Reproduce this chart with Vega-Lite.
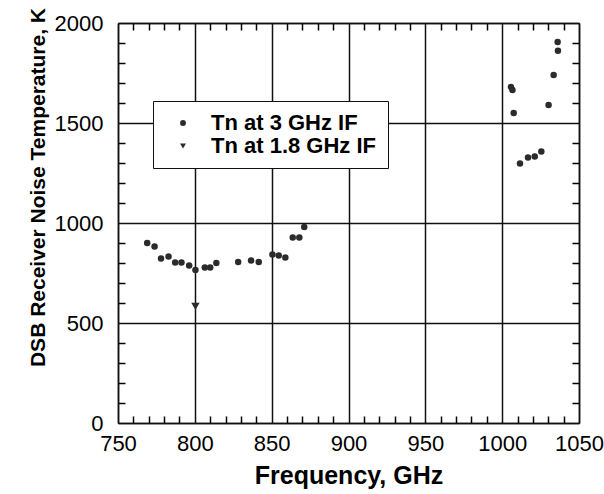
{
  "$schema": "https://vega.github.io/schema/vega-lite/v6.json",
  "width": 461,
  "height": 400,
  "padding": {"left": 26, "top": 7, "right": 5, "bottom": 5},
  "config": {"view": {"stroke": null}},
  "data": {"values": [
    {"f": 769.0, "t": 900, "series": "Tn at 3 GHz IF"},
    {"f": 773.8, "t": 882, "series": "Tn at 3 GHz IF"},
    {"f": 778.0, "t": 822, "series": "Tn at 3 GHz IF"},
    {"f": 782.9, "t": 832, "series": "Tn at 3 GHz IF"},
    {"f": 787.2, "t": 803, "series": "Tn at 3 GHz IF"},
    {"f": 791.3, "t": 803, "series": "Tn at 3 GHz IF"},
    {"f": 796.3, "t": 787, "series": "Tn at 3 GHz IF"},
    {"f": 800.4, "t": 765, "series": "Tn at 3 GHz IF"},
    {"f": 806.5, "t": 778, "series": "Tn at 3 GHz IF"},
    {"f": 810.0, "t": 777, "series": "Tn at 3 GHz IF"},
    {"f": 814.0, "t": 800, "series": "Tn at 3 GHz IF"},
    {"f": 828.2, "t": 805, "series": "Tn at 3 GHz IF"},
    {"f": 836.6, "t": 813, "series": "Tn at 3 GHz IF"},
    {"f": 841.6, "t": 805, "series": "Tn at 3 GHz IF"},
    {"f": 850.5, "t": 843, "series": "Tn at 3 GHz IF"},
    {"f": 854.6, "t": 838, "series": "Tn at 3 GHz IF"},
    {"f": 858.9, "t": 828, "series": "Tn at 3 GHz IF"},
    {"f": 863.7, "t": 927, "series": "Tn at 3 GHz IF"},
    {"f": 868.0, "t": 927, "series": "Tn at 3 GHz IF"},
    {"f": 871.2, "t": 980, "series": "Tn at 3 GHz IF"},
    {"f": 1005.7, "t": 1680, "series": "Tn at 3 GHz IF"},
    {"f": 1006.7, "t": 1665, "series": "Tn at 3 GHz IF"},
    {"f": 1007.5, "t": 1550, "series": "Tn at 3 GHz IF"},
    {"f": 1011.6, "t": 1297, "series": "Tn at 3 GHz IF"},
    {"f": 1016.8, "t": 1328, "series": "Tn at 3 GHz IF"},
    {"f": 1021.2, "t": 1332, "series": "Tn at 3 GHz IF"},
    {"f": 1025.5, "t": 1358, "series": "Tn at 3 GHz IF"},
    {"f": 1030.2, "t": 1590, "series": "Tn at 3 GHz IF"},
    {"f": 1033.5, "t": 1740, "series": "Tn at 3 GHz IF"},
    {"f": 1036.3, "t": 1861, "series": "Tn at 3 GHz IF"},
    {"f": 1036.1, "t": 1905, "series": "Tn at 3 GHz IF"},
    {"f": 800.4, "t": 583, "series": "Tn at 1.8 GHz IF"}
  ]},
  "resolve": {"axis": {"x": "independent", "y": "independent"}},
  "layer": [
    {
      "mark": {"type": "point", "opacity": 0},
      "encoding": {
        "x": {"field": "f", "type": "quantitative",
          "scale": {"domain": [750, 1050], "nice": false, "zero": false},
          "axis": {"orient": "bottom", "values": [760,770,780,790,810,820,830,840,860,870,880,890,910,920,930,940,960,970,980,990,1010,1020,1030,1040],
            "title": null, "labels": false, "grid": false, "tickSize": -7, "tickColor": "black", "tickWidth": 1.5,
            "domainColor": "#111", "domainWidth": 1.5}},
        "y": {"field": "t", "type": "quantitative",
          "scale": {"domain": [0, 2000], "nice": false},
          "axis": {"orient": "left", "values": [100,200,300,400,600,700,800,900,1100,1200,1300,1400,1600,1700,1800,1900],
            "title": null, "labels": false, "grid": false, "tickSize": -7, "tickColor": "black", "tickWidth": 1.5,
            "domainColor": "#111", "domainWidth": 1.5}}
      }
    },
    {
      "transform": [{"filter": "datum.series === 'Tn at 1.8 GHz IF'"}],
      "mark": {"type": "point", "filled": true, "color": "#2b2b2b", "opacity": 1, "size": 70},
      "encoding": {
        "x": {"field": "f", "type": "quantitative",
          "scale": {"domain": [750, 1050], "nice": false, "zero": false},
          "axis": {"orient": "top", "values": [760,770,780,790,810,820,830,840,860,870,880,890,910,920,930,940,960,970,980,990,1010,1020,1030,1040],
            "title": null, "labels": false, "grid": false, "tickSize": -7, "tickColor": "black", "tickWidth": 1.5,
            "domainColor": "#111", "domainWidth": 1.5}},
        "y": {"field": "t", "type": "quantitative",
          "scale": {"domain": [0, 2000], "nice": false},
          "axis": {"orient": "right", "values": [100,200,300,400,600,700,800,900,1100,1200,1300,1400,1600,1700,1800,1900],
            "title": null, "labels": false, "grid": false, "tickSize": -7, "tickColor": "black", "tickWidth": 1.5,
            "domainColor": "#111", "domainWidth": 1.5}},
        "shape": {"field": "series", "type": "nominal",
          "scale": {"domain": ["Tn at 3 GHz IF", "Tn at 1.8 GHz IF"], "range": ["circle", "triangle-down"]},
          "legend": {"orient": "none", "legendX": 35, "legendY": 78, "title": null,
            "strokeColor": "#111", "fillColor": "white", "padding": 11,
            "labelFont": "Liberation Sans", "labelFontSize": 22, "labelFontWeight": "bold", "labelColor": "#000", "labelLimit": 400,
            "symbolSize": 35, "symbolFillColor": "#333", "symbolStrokeColor": "#333", "symbolStrokeWidth": 0,
            "symbolOffset": 8, "labelOffset": 17, "rowPadding": 1}}
      }
    },
    {
      "transform": [{"filter": "datum.series === 'Tn at 3 GHz IF'"}],
      "mark": {"type": "point", "filled": true, "color": "#2b2b2b", "opacity": 1, "size": 42},
      "encoding": {
        "x": {"field": "f", "type": "quantitative",
          "scale": {"domain": [750, 1050], "nice": false, "zero": false},
          "axis": {"orient": "bottom", "values": [750, 800, 850, 900, 950, 1000, 1050], "format": "d",
            "title": "Frequency, GHz", "titleFont": "Liberation Sans", "titleFontSize": 25, "titleFontWeight": "bold", "titleColor": "#000",
            "titleBaseline": "alphabetic", "titleY": 60,
            "labelFont": "Liberation Sans", "labelFontSize": 22, "labelColor": "#000", "labelPadding": 10, "labelFlush": false,
            "tickSize": 0, "domain": false,
            "grid": true, "gridColor": "#111", "gridWidth": 1.5, "gridOpacity": 1}},
        "y": {"field": "t", "type": "quantitative",
          "scale": {"domain": [0, 2000], "nice": false},
          "axis": {"orient": "left", "values": [0, 500, 1000, 1500, 2000], "format": "d",
            "title": "DSB Receiver Noise Temperature, K", "titleFont": "Liberation Sans", "titleFontSize": 21, "titleFontWeight": "bold", "titleColor": "#000",
            "titleX": -70, "titleY": 164, "titleAlign": "center", "titleAngle": 270, "titleBaseline": "bottom",
            "labelFont": "Liberation Sans", "labelFontSize": 22, "labelColor": "#000", "labelPadding": 15, "labelFlush": false,
            "tickSize": 0, "domain": false,
            "grid": true, "gridColor": "#111", "gridWidth": 1.5, "gridOpacity": 1}},
        "shape": {"field": "series", "type": "nominal",
          "scale": {"domain": ["Tn at 3 GHz IF", "Tn at 1.8 GHz IF"], "range": ["circle", "triangle-down"]},
          "legend": {"orient": "none", "legendX": 35, "legendY": 78, "title": null,
            "strokeColor": "#111", "fillColor": "white", "padding": 11,
            "labelFont": "Liberation Sans", "labelFontSize": 22, "labelFontWeight": "bold", "labelColor": "#000", "labelLimit": 400,
            "symbolSize": 35, "symbolFillColor": "#333", "symbolStrokeColor": "#333", "symbolStrokeWidth": 0,
            "symbolOffset": 8, "labelOffset": 17, "rowPadding": 1}}
      }
    }
  ]
}
